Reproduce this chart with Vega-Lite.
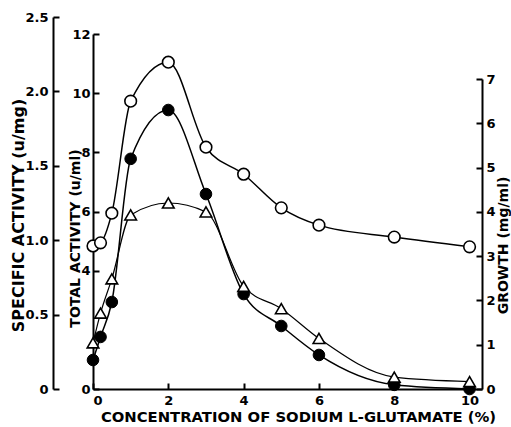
{
  "$schema": "https://vega.github.io/schema/vega-lite/v6.json",
  "width": 389,
  "height": 372,
  "autosize": "none",
  "padding": {"left": 93, "top": 17, "right": 29, "bottom": 38},
  "background": "white",
  "config": {
    "view": {"stroke": null},
    "font": "DejaVu Sans",
    "axis": {
      "grid": false,
      "domainColor": "black",
      "domainWidth": 2,
      "tickColor": "black",
      "tickWidth": 2,
      "tickSize": -6,
      "labelColor": "black",
      "labelFont": "DejaVu Sans",
      "labelFontWeight": "bold",
      "labelFontSize": 13,
      "titleColor": "black",
      "titleFont": "DejaVu Sans",
      "titleFontWeight": "bold",
      "titleFontSize": 14
    }
  },
  "data": {
    "values": [
      {"conc": 0, "growth": 3.23, "total": 0.98, "specific": 0.31},
      {"conc": 0.2, "growth": 3.30, "total": 1.76, "specific": 0.51},
      {"conc": 0.5, "growth": 3.97, "total": 2.94, "specific": 0.74},
      {"conc": 1, "growth": 6.50, "total": 7.78, "specific": 1.17},
      {"conc": 2, "growth": 7.38, "total": 9.43, "specific": 1.25},
      {"conc": 3, "growth": 5.46, "total": 6.59, "specific": 1.19},
      {"conc": 4, "growth": 4.85, "total": 3.21, "specific": 0.69},
      {"conc": 5, "growth": 4.09, "total": 2.13, "specific": 0.54},
      {"conc": 6, "growth": 3.70, "total": 1.15, "specific": 0.34},
      {"conc": 8, "growth": 3.43, "total": 0.14, "specific": 0.08},
      {"conc": 10, "growth": 3.21, "total": 0.0, "specific": 0.05}
    ]
  },
  "encoding": {
    "x": {
      "field": "conc",
      "type": "quantitative",
      "scale": {"domain": [0, 10.33], "nice": false, "zero": false},
      "axis": {
        "title": "CONCENTRATION OF SODIUM L-GLUTAMATE (%)",
        "values": [0, 2, 4, 6, 8, 10],
        "labelPadding": 11,
        "titlePadding": 2,
        "titleFontSize": 14.8,
        "titleX": 205
      }
    }
  },
  "layer": [
    {
      "encoding": {
        "y": {
          "field": "growth",
          "type": "quantitative",
          "scale": {"domain": [0, 7], "range": [372, 62], "nice": false},
          "axis": {
            "orient": "right",
            "title": "GROWTH (mg/ml)",
            "values": [0, 1, 2, 3, 4, 5, 6, 7],
            "labelPadding": 10,
            "titleAngle": -90,
            "titleBaseline": "middle",
            "titleX": 21,
            "titleY": 228
          }
        }
      },
      "layer": [
        {"mark": {"type": "line", "color": "black", "strokeWidth": 1.5, "interpolate": "monotone"}},
        {"mark": {"type": "point", "shape": "circle", "filled": true, "fill": "white", "stroke": "black", "strokeWidth": 1.6, "size": 135, "opacity": 1}}
      ]
    },
    {
      "encoding": {
        "y": {
          "field": "total",
          "type": "quantitative",
          "scale": {"domain": [0, 12], "range": [372, 17], "nice": false},
          "axis": {
            "orient": "left",
            "title": "TOTAL ACTIVITY (u/ml)",
            "values": [0, 4, 6, 8, 10, 12],
            "labelPadding": 9,
            "titleAngle": -90,
            "titleBaseline": "middle",
            "titleX": -18,
            "titleY": 221
          }
        }
      },
      "layer": [
        {"mark": {"type": "line", "color": "black", "strokeWidth": 1.5, "interpolate": "monotone"}},
        {"mark": {"type": "point", "shape": "circle", "filled": true, "fill": "black", "stroke": "black", "strokeWidth": 1, "size": 135, "opacity": 1}}
      ]
    },
    {
      "encoding": {
        "y": {
          "field": "specific",
          "type": "quantitative",
          "scale": {"domain": [0, 2.5], "nice": false},
          "axis": {
            "orient": "left",
            "offset": 40,
            "title": "SPECIFIC ACTIVITY (u/mg)",
            "values": [0, 0.5, 1, 1.5, 2, 2.5],
            "labelExpr": "datum.value == 0 ? '0' : format(datum.value, '.1f')",
            "labelPadding": 11,
            "titleAngle": -90,
            "titleBaseline": "middle",
            "titleFontSize": 16,
            "titleX": -35,
            "titleY": 198
          }
        }
      },
      "layer": [
        {"mark": {"type": "line", "color": "black", "strokeWidth": 1.2, "interpolate": "monotone"}},
        {"mark": {"type": "point", "shape": "triangle-up", "filled": true, "fill": "white", "stroke": "black", "strokeWidth": 1.6, "size": 135, "opacity": 1}}
      ]
    }
  ],
  "resolve": {"scale": {"y": "independent"}, "axis": {"y": "independent"}}
}
